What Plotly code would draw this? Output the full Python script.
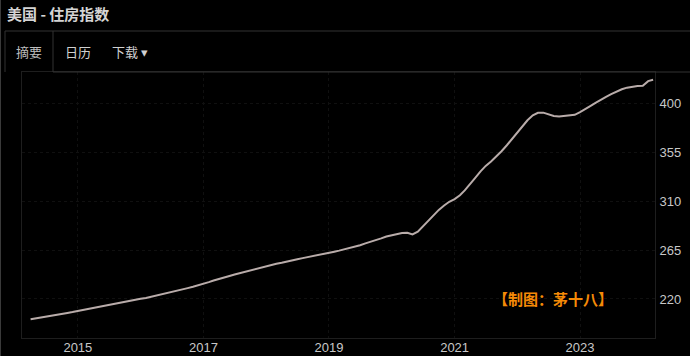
import plotly.graph_objects as go
import pandas as pd

# ---- data ----
start_month = "2014-04-01"
index_values = [
    # 2014 Apr-Dec
    201.4, 202.3, 203.2, 204.0, 204.8, 205.6, 206.4, 207.2, 208.0,
    # 2015
    209.0, 210.0, 211.0, 212.0, 212.8, 213.6, 214.6, 215.6, 216.7, 217.7, 218.5, 219.3,
    # 2016
    220.2, 221.0, 222.0, 223.2, 224.3, 225.4, 226.5, 227.6, 228.8, 230.0, 231.2, 232.4,
    # 2017
    234.3, 235.5, 237.0, 238.6, 239.9, 241.2, 242.5, 243.8, 245.2, 246.5, 247.9, 249.2,
    # 2018
    250.6, 251.5, 252.5, 253.4, 254.2, 255.3, 256.5, 257.6, 258.5, 259.5, 260.5, 261.5,
    # 2019
    262.7, 263.5, 264.5, 265.7, 266.8, 268.0, 269.5, 271.2, 272.6, 274.2, 275.8, 277.5,
    # 2020
    278.8, 280.0, 280.8, 281.0, 279.5, 282.0, 287.0, 292.5, 297.5, 302.0, 306.0, 309.5,
    # 2021
    312.0, 315.5, 320.0, 325.5, 331.5, 337.5, 342.5, 346.5, 351.0, 356.0, 361.5, 367.5,
    # 2022
    373.5, 379.0, 384.5, 389.0, 391.4, 391.5, 390.0, 388.5, 388.0, 388.5, 389.0, 389.5,
    # 2023
    392.0, 394.5, 397.5, 400.5, 403.5, 406.0, 408.5, 411.0, 413.0, 414.5, 415.5, 416.0,
    # 2024 Jan-Mar
    416.2, 420.5, 421.7,
]
dates = pd.date_range(start_month, periods=len(index_values), freq="MS")

x_tick_years = [2015, 2017, 2019, 2021, 2023]
y_tick_values = [220, 265, 310, 355, 400]

title_text = "美国 - 住房指数"
tab_labels = ["摘要", "日历", "下载 ▾"]
watermark = "【制图：茅十八】"

# ---- layout geometry ----
W, H = 690, 356
ML, MR, MT, MB = 22, 35, 72, 18
PW, PH = W - ML - MR, H - MT - MB


def px(xp):
    return (xp - ML) / PW


def py(yp):
    return (H - MB - yp) / PH


fig = go.Figure()
fig.add_trace(go.Scatter(
    x=dates, y=index_values, mode="lines",
    line=dict(color="#b9acaa", width=2),
    hoverinfo="skip", showlegend=False,
))

tick_font = dict(family="Liberation Sans, Arial, sans-serif", size=13, color="#c8c8c8")
cjk = "Noto Sans CJK SC, sans-serif"

fig.update_layout(
    width=W, height=H,
    margin=dict(l=ML, r=MR, t=MT, b=MB, autoexpand=False),
    paper_bgcolor="#000000", plot_bgcolor="#000000",
    xaxis=dict(
        type="date",
        range=["2014-02-10", "2024-03-12"],
        tickvals=[f"{y}-01-01" for y in x_tick_years],
        ticktext=[str(y) for y in x_tick_years],
        tickfont=tick_font,
        showgrid=True, gridcolor="#101010", griddash="dot", gridwidth=1,
        showline=True, linecolor="#1e1e1e", mirror=True,
        zeroline=False, ticks="", automargin=False, ticklabelstandoff=-3,
    ),
    yaxis=dict(
        side="right",
        range=[184.1, 428.9],
        tickvals=y_tick_values,
        tickfont=tick_font,
        showgrid=True, gridcolor="#101010", griddash="dot", gridwidth=1,
        showline=True, linecolor="#1e1e1e", mirror=True,
        zeroline=False, ticks="", ticklabelstandoff=1, automargin=False,
    ),
)

line_col = "#333333"
shapes = [
    dict(type="line", xref="paper", yref="paper", x0=px(5), x1=px(690), y0=py(31), y1=py(31),
         line=dict(color=line_col, width=1)),
    dict(type="line", xref="paper", yref="paper", x0=px(5), x1=px(5), y0=py(31), y1=py(72),
         line=dict(color=line_col, width=1)),
    dict(type="line", xref="paper", yref="paper", x0=px(53), x1=px(53), y0=py(31), y1=py(72),
         line=dict(color=line_col, width=1)),
    dict(type="line", xref="paper", yref="paper", x0=px(53), x1=px(690), y0=py(72), y1=py(72),
         line=dict(color=line_col, width=1)),
    dict(type="line", xref="paper", yref="paper", x0=px(0.5), x1=px(0.5), y0=py(0), y1=py(356),
         line=dict(color="#3a3a3a", width=1)),
]
fig.update_layout(shapes=shapes)

annotations = [
    dict(text=f"<b>{title_text}</b>", xref="paper", yref="paper", x=px(5), y=py(14),
         xanchor="left", yanchor="middle", showarrow=False,
         font=dict(family=cjk, size=15, color="#d4d4d4")),
    dict(text=tab_labels[0], xref="paper", yref="paper", x=px(29), y=py(52),
         xanchor="center", yanchor="middle", showarrow=False,
         font=dict(family=cjk, size=13, color="#bdbdbd")),
    dict(text=tab_labels[1], xref="paper", yref="paper", x=px(63), y=py(52),
         xanchor="left", yanchor="middle", showarrow=False,
         font=dict(family=cjk, size=13, color="#d0d0d0")),
    dict(text=tab_labels[2], xref="paper", yref="paper", x=px(110), y=py(52),
         xanchor="left", yanchor="middle", showarrow=False,
         font=dict(family=cjk, size=13, color="#d0d0d0")),
    dict(text=f"<b>{watermark}</b>", xref="paper", yref="paper", x=px(553), y=py(298),
         xanchor="center", yanchor="middle", showarrow=False,
         font=dict(family=cjk, size=15, color="#f58a07")),
]
fig.update_layout(annotations=annotations)

fig.write_html(
    "out.html",
    config={"displayModeBar": False},
    post_script="document.body.style.margin='0';document.body.style.background='#000';",
)
